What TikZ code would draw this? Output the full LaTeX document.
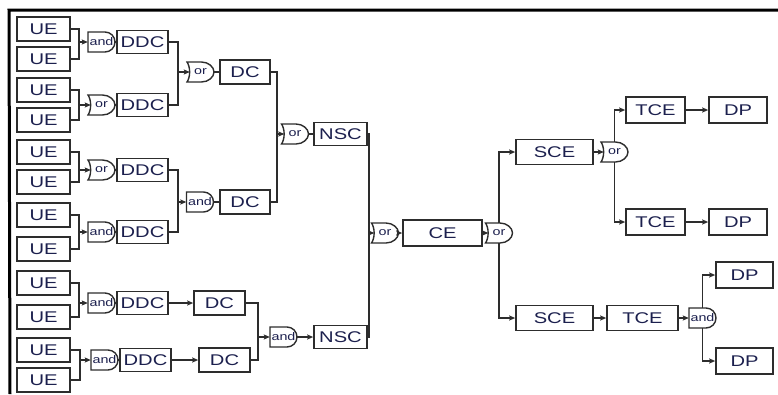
\documentclass[tikz,border=0pt]{standalone}
\usepackage{fontspec}
\setmainfont{Liberation Sans}[FakeStretch=1.3]
\usetikzlibrary{arrows.meta}
\definecolor{txt}{RGB}{28,32,78}
\definecolor{ln}{RGB}{45,45,45}
\newcommand\AndG[2]{%
  \draw[gateline,shift={(#2)}] (-13.5,-10) -- (3.5,-10) .. controls (9,-10) and (13.5,-5.5) .. (13.5,0) .. controls (13.5,5.5) and (9,10) .. (3.5,10) -- (-13.5,10) -- cycle;
  \node[gate] (#1) at (#2) {and};}
\newcommand\OrG[2]{%
  \draw[gateline,shift={(#2)}] (-13.5,-10) -- (1,-10) .. controls (8,-10) and (13.5,-5) .. (13.5,0) .. controls (13.5,5) and (8,10) .. (1,10) -- (-13.5,10) .. controls (-10,5) and (-10,-5) .. (-13.5,-10) -- cycle;
  \node[gate] (#1) at (#2) {or};}
\begin{document}
\begin{tikzpicture}[x=1pt,y=-1pt,
  box/.style={draw=ln, line width=1.6pt, fill=white, minimum height=24pt, inner sep=0pt, text=txt, font=\fontsize{15.5}{15.5}\selectfont},
  gate/.style={draw=none, minimum width=27pt, minimum height=20pt, inner sep=0pt, text=txt, font=\fontsize{11}{11}\selectfont},
  gateline/.style={draw=ln, line width=1.4pt, fill=white},
  wire/.style={draw=ln, line width=1.2pt},
  arr/.style={wire, -{Stealth[length=6pt,width=5pt,inset=1pt]}},
  frame/.style={line width=3pt, black}]
\useasboundingbox (0,0) rectangle (778,394);
\coordinate (f1) at (9,10);
\coordinate (f2) at (778,10);
\coordinate (f3) at (10,394);
\draw[frame] (f2) -- (f1) -- (f3);

% UE boxes
\foreach \i/\y in {1/29,2/59,3/90,4/120,5/152,6/182,7/215,8/249,9/283,10/317,11/350,12/380}
  \node[box, minimum width=53pt] (UE\i) at (43.5,\y) {UE};

% level 1 gates
\AndG{G1}{101.5,42}
\OrG{G2}{101.5,105}
\OrG{G3}{101.5,170}
\AndG{G4}{101.5,232}
\AndG{G5}{101.5,303}
\AndG{G6}{104.5,360}
\node[box, minimum width=51pt, minimum height=23pt] (DDC1) at (142.5,42) {DDC};
\node[box, minimum width=51pt, minimum height=23pt] (DDC2) at (142.5,105) {DDC};
\node[box, minimum width=51pt, minimum height=23pt] (DDC3) at (142.5,170) {DDC};
\node[box, minimum width=51pt, minimum height=23pt] (DDC4) at (142.5,232) {DDC};
\node[box, minimum width=51pt, minimum height=23pt] (DDC5) at (142.5,303) {DDC};
\node[box, minimum width=51pt, minimum height=23pt] (DDC6) at (145.5,360) {DDC};

\coordinate (j1) at (79,42);
\coordinate (j2) at (79,105);
\coordinate (j3) at (79,170);
\coordinate (j4) at (79,232);
\coordinate (j5) at (79,303);
\coordinate (j6) at (80,360);
\draw[wire] (UE1.east) -| (j1) |- (UE2.east);
\draw[wire] (UE3.east) -| (j2) |- (UE4.east);
\draw[wire] (UE5.east) -| (j3) |- (UE6.east);
\draw[wire] (UE7.east) -| (j4) |- (UE8.east);
\draw[wire] (UE9.east) -| (j5) |- (UE10.east);
\draw[wire] (UE11.east) -| (j6) |- (UE12.east);
\draw[arr] (j1) -- (G1.west);
\draw[arr] (j2) -- ([xshift=3pt]G2.west);
\draw[arr] (j3) -- ([xshift=3pt]G3.west);
\draw[arr] (j4) -- (G4.west);
\draw[arr] (j5) -- (G5.west);
\draw[arr] (j6) -- (G6.west);
\foreach \i in {1,...,6} \draw[wire] (G\i.east) -- (DDC\i.west);

% level 2
\OrG{G7}{200.5,72}
\AndG{G8}{200,202}
\node[box, minimum width=50pt] (DC1) at (245,72) {DC};
\node[box, minimum width=50pt] (DC2) at (245,202) {DC};
\node[box, minimum width=51pt] (DC5) at (219.5,303) {DC};
\node[box, minimum width=51pt] (DC6) at (224.5,360) {DC};
\coordinate (j7) at (178,72);
\coordinate (j8) at (178,202);
\draw[wire] (DDC1.east) -| (j7) |- (DDC2.east);
\draw[wire] (DDC3.east) -| (j8) |- (DDC4.east);
\draw[arr] (j7) -- ([xshift=3pt]G7.west);
\draw[arr] (j8) -- (G8.west);
\draw[wire] (G7.east) -- (DC1.west);
\draw[wire] (G8.east) -- (DC2.west);
\draw[arr] (DDC5.east) -- (DC5.west);
\draw[arr] (DDC6.east) -- (DC6.west);

% level 3
\OrG{G9}{295,134}
\AndG{G10}{283.5,337}
\node[box, minimum width=53pt, minimum height=23pt] (NSC1) at (340.5,134) {NSC};
\node[box, minimum width=53pt, minimum height=23pt] (NSC2) at (340.5,337) {NSC};
\coordinate (j9) at (277,134);
\coordinate (j10) at (258,337);
\draw[wire] (DC1.east) -| (j9) |- (DC2.east);
\draw[wire] (DC5.east) -| (j10) |- (DC6.east);
\draw[arr] (j9) -- ([xshift=3pt]G9.west);
\draw[arr] (j10) -- (G10.west);
\draw[wire] (G9.east) -- (NSC1.west);
\draw[arr] (G10.east) -- (NSC2.west);

% level 4
\OrG{G11}{385,233}
\node[box, minimum width=79pt, minimum height=26pt] (CE) at (442.5,233) {CE};
\coordinate (j11) at (369,233);
\draw[wire] (NSC1.east) -| (j11) |- (NSC2.east);
\draw[arr] (j11) -- ([xshift=3pt]G11.west);
\draw[arr] (G11.east) -- (CE.west);

% right part
\OrG{G12}{499,233}
\draw[arr] (CE.east) -- ([xshift=3pt]G12.west);
\node[box, minimum width=77pt, minimum height=25pt] (SCE1) at (554.5,152) {SCE};
\node[box, minimum width=77pt, minimum height=25pt] (SCE2) at (554.5,318) {SCE};
\draw[arr] (G12.north) |- (SCE1.west);
\draw[arr] (G12.south) |- (SCE2.west);

\OrG{G13}{614.5,152}
\draw[arr] (SCE1.east) -- ([xshift=3pt]G13.west);
\node[box, minimum width=59pt, minimum height=26pt] (TCE1) at (655.5,110) {TCE};
\node[box, minimum width=59pt, minimum height=26pt] (TCE2) at (655.5,222) {TCE};
\node[box, minimum width=58pt, minimum height=26pt] (DP1) at (738,110) {DP};
\node[box, minimum width=58pt, minimum height=26pt] (DP2) at (738,222) {DP};
\draw[arr] (G13.north) |- (TCE1.west);
\draw[arr] (G13.south) |- (TCE2.west);
\draw[arr] (TCE1.east) -- (DP1.west);
\draw[arr] (TCE2.east) -- (DP2.west);

\node[box, minimum width=71pt, minimum height=25pt] (TCE3) at (642.5,318) {TCE};
\draw[arr] (SCE2.east) -- (TCE3.west);
\AndG{G14}{702.5,318}
\draw[arr] (TCE3.east) -- (G14.west);
\node[box, minimum width=57pt, minimum height=26pt] (DP3) at (744.5,275) {DP};
\node[box, minimum width=57pt, minimum height=26pt] (DP4) at (744.5,361) {DP};
\draw[arr] (G14.north) |- (DP3.west);
\draw[arr] (G14.south) |- (DP4.west);
\end{tikzpicture}
\end{document}
